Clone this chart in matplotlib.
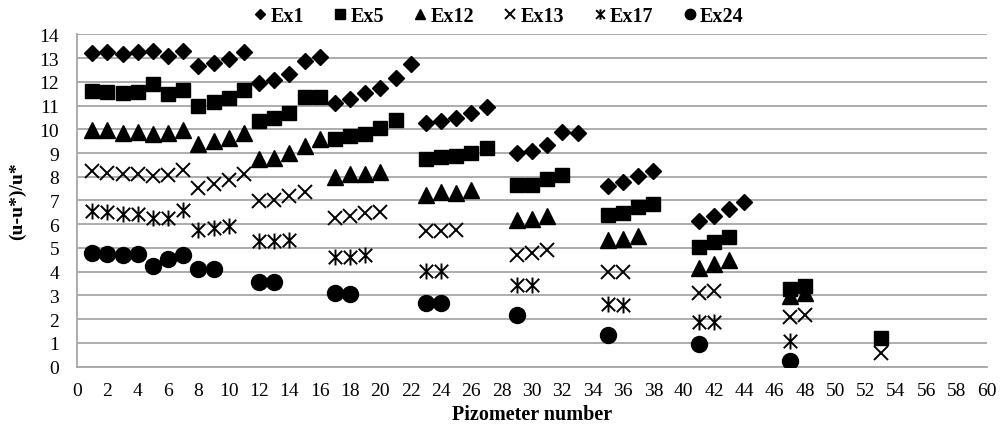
import numpy as np
import matplotlib
matplotlib.use("Agg")
import matplotlib.pyplot as plt
from matplotlib.path import Path

plt.rcParams['font.family'] = ['Liberation Serif', 'DejaVu Serif']

# Daten
ex1_x = [1, 2, 3, 4, 5, 6, 7, 8, 9, 10, 11, 12, 13, 14, 15, 16, 17, 18, 19, 20, 21, 22,
         23, 24, 25, 26, 27, 29, 30, 31, 32, 33, 35, 36, 37, 38, 41, 42, 43, 44]
ex1_y = [13.23, 13.26, 13.17, 13.25, 13.28, 13.1, 13.3, 12.66, 12.8, 12.97, 13.25,
         11.96, 12.07, 12.31, 12.87, 13.06, 11.09, 11.26, 11.51, 11.76, 12.16, 12.74,
         10.27, 10.34, 10.46, 10.67, 10.93, 8.98, 9.08, 9.32, 9.88, 9.85,
         7.63, 7.78, 8.02, 8.26, 6.12, 6.36, 6.64, 6.94]

ex5_x = [1, 2, 3, 4, 5, 6, 7, 8, 9, 10, 11, 12, 13, 14, 15, 16, 17, 18, 19, 20, 21,
         23, 24, 25, 26, 27, 29, 30, 31, 32, 35, 36, 37, 38, 41, 42, 43, 47, 48, 53]
ex5_y = [11.6, 11.57, 11.53, 11.57, 11.89, 11.47, 11.64, 11.0, 11.15, 11.33, 11.65,
         10.34, 10.46, 10.67, 11.37, 11.38, 9.57, 9.71, 9.82, 10.06, 10.38,
         8.73, 8.83, 8.87, 9.0, 9.22, 7.64, 7.67, 7.91, 8.06,
         6.37, 6.47, 6.71, 6.87, 5.04, 5.24, 5.46, 3.27, 3.41, 1.2]

ex12_x = [1, 2, 3, 4, 5, 6, 7, 8, 9, 10, 11, 12, 13, 14, 15, 16, 17, 18, 19, 20,
          23, 24, 25, 26, 29, 30, 31, 35, 36, 37, 41, 42, 43, 47, 48]
ex12_y = [9.95, 9.95, 9.85, 9.9, 9.8, 9.85, 9.97, 9.36, 9.5, 9.64, 9.85,
          8.75, 8.8, 9.0, 9.29, 9.61, 7.99, 8.12, 8.13, 8.19,
          7.25, 7.35, 7.32, 7.46, 6.19, 6.23, 6.33, 5.32, 5.38, 5.49,
          4.15, 4.34, 4.5, 2.96, 3.1]

ex13_x = [1, 2, 3, 4, 5, 6, 7, 8, 9, 10, 11, 12, 13, 14, 15, 17, 18, 19, 20,
          23, 24, 25, 29, 30, 31, 35, 36, 41, 42, 47, 48, 53]
ex13_y = [8.23, 8.16, 8.13, 8.12, 8.02, 8.06, 8.3, 7.53, 7.71, 7.88, 8.13,
          6.97, 7.04, 7.2, 7.35, 6.26, 6.36, 6.47, 6.5,
          5.7, 5.7, 5.74, 4.72, 4.79, 4.9, 3.97, 3.97, 3.12, 3.17, 2.08, 2.18, 0.56]

ex17_x = [1, 2, 3, 4, 5, 6, 7, 8, 9, 10, 12, 13, 14, 17, 18, 19,
          23, 24, 29, 30, 35, 36, 41, 42, 47]
ex17_y = [6.54, 6.5, 6.42, 6.44, 6.26, 6.26, 6.59, 5.77, 5.84, 5.94, 5.28, 5.28, 5.35,
          4.64, 4.64, 4.72, 4.01, 4.05, 3.45, 3.45, 2.65, 2.6, 1.9, 1.9, 1.1]

ex24_x = [1, 2, 3, 4, 5, 6, 7, 8, 9, 12, 13, 17, 18, 23, 24, 29, 35, 41, 47]
ex24_y = [4.78, 4.75, 4.7, 4.75, 4.25, 4.55, 4.72, 4.11, 4.11, 3.56, 3.56, 3.1, 3.05,
          2.67, 2.67, 2.16, 1.34, 0.94, 0.25]

# Sternchen wie in Excel: X plus senkrechter Strich
star = Path([(0, -0.5), (0, 0.5), (-0.42, -0.42), (0.42, 0.42), (-0.42, 0.42), (0.42, -0.42)],
            [Path.MOVETO, Path.LINETO, Path.MOVETO, Path.LINETO, Path.MOVETO, Path.LINETO])

fig, ax = plt.subplots(figsize=(10.01, 4.31), dpi=100)
fig.subplots_adjust(left=0.077, right=0.986, top=0.918, bottom=0.147)

ax.plot(ex1_x, ex1_y, 'D', ms=7.8, color='k', ls='none', label='Ex1', zorder=3)
ax.plot(ex5_x, ex5_y, 's', ms=10, color='k', ls='none', label='Ex5', zorder=3)
ax.plot(ex12_x, ex12_y, '^', ms=11, color='k', ls='none', label='Ex12', zorder=3)
ax.plot(ex13_x, ex13_y, 'x', ms=10, mew=1.4, color='k', ls='none', label='Ex13', zorder=3)
ax.plot(ex17_x, ex17_y, marker=star, ms=11.5, mew=1.4, color='k', mfc='none', ls='none',
        label='Ex17', zorder=3)
ax.plot(ex24_x, ex24_y, 'o', ms=11.5, color='k', ls='none', label='Ex24', zorder=3)

ax.set_xlim(0, 60)
ax.set_ylim(0, 14)
ax.set_xticks(np.arange(0, 61, 2))
ax.set_yticks(np.arange(0, 15, 1))
ax.tick_params(length=0, labelsize=14)
ax.tick_params(axis='x', pad=11)
ax.tick_params(axis='y', pad=13)
ax.yaxis.grid(True, color='#a6a6a6', lw=1.3)
ax.set_axisbelow(True)
for s in ['top', 'right']:
    ax.spines[s].set_visible(False)
for s in ['left', 'bottom']:
    ax.spines[s].set_color('#a6a6a6')
    ax.spines[s].set_linewidth(1.3)

ax.set_xlabel('Pizometer number', fontsize=14.5, fontweight='bold', va='center')
ax.set_ylabel('(u-u*)/u*', fontsize=14, fontweight='bold', va='center')
ax.xaxis.set_label_coords(0.5, -0.142)
ax.yaxis.set_label_coords(-0.066, 0.5)

fig.legend(loc='upper center', bbox_to_anchor=(0.498, 1.025), ncol=6, frameon=False,
           markerscale=0.65, handlelength=0.7, handletextpad=0.15, columnspacing=1.45,
           prop={'weight': 'bold', 'size': 14.5})

plt.savefig('out.png', dpi=100)
